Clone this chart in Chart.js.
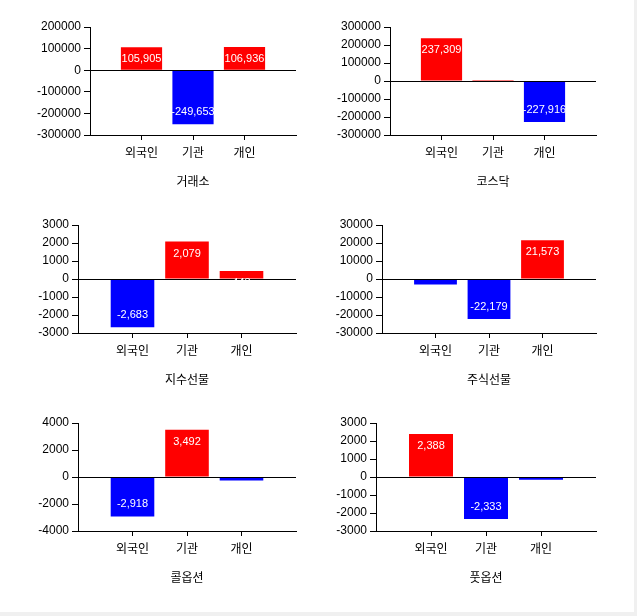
<!DOCTYPE html>
<html>
<head>
<meta charset="utf-8">
<script src="https://cdn.jsdelivr.net/npm/chart.js@4.4.1/dist/chart.umd.min.js"></script>
<style>
  html, body { margin: 0; padding: 0; background: #f0f0f0; }
  #wrap { position: absolute; left: 0; top: 0; width: 634px; height: 612px; background: #ffffff; }
  canvas { position: absolute; }
</style>
</head>
<body>
<div id="wrap"></div>
<script>
// ---- data ----
const categories = ['외국인', '기관', '개인'];
const titles = ['거래소', '코스닥', '지수선물', '주식선물', '콜옵션', '풋옵션'];
const kospiValues = [105905, -249653, 106936];
const kosdaqValues = [237309, 6000, -227916];
const indexFuturesValues = [-2683, 2079, 443];
const stockFuturesValues = [-3120, -22179, 21573];
const callOptionValues = [-2918, 3492, -250];
const putOptionValues = [2388, -2333, -150];
const yMins = [-300000, -300000, -3000, -30000, -4000, -3000];
const yMaxs = [200000, 300000, 3000, 30000, 4000, 3000];
const ySteps = [100000, 100000, 1000, 10000, 2000, 1000];

const seriesList = [kospiValues, kosdaqValues, indexFuturesValues, stockFuturesValues, callOptionValues, putOptionValues];

// ---- layout (canvas placement and chart-area edges inside each canvas) ----
const CW = 316, CH = 198;
const canvasLefts = [0, 316, 0, 316, 0, 316];
const canvasTops = [0, 0, 198, 198, 396, 396];
const areaLefts = [90, 74, 78, 66, 78, 60];
const areaRights = [296, 280, 296, 280, 296, 280];
const areaTop = 27, areaBottom = 135;

const FONT = "'Liberation Sans', 'Noto Sans CJK KR', sans-serif";
const KFONT = "'Noto Sans CJK KR', 'Liberation Sans', sans-serif";

const valueLabels = {
  id: 'valueLabels',
  afterDraw(chart) {
    const ctx = chart.ctx;
    const meta = chart.getDatasetMeta(0);
    const data = chart.data.datasets[0].data;
    ctx.save();
    ctx.fillStyle = '#ffffff';
    ctx.font = "11px " + FONT;
    ctx.textAlign = 'center';
    ctx.textBaseline = 'middle';
    meta.data.forEach((el, i) => {
      const v = data[i];
      if (v === null || v === undefined) return;
      const y = v >= 0 ? el.y + 12 : el.y - 12;
      ctx.fillText(v.toLocaleString('en-US'), el.x, y);
    });
    ctx.restore();
  }
};

const wrap = document.getElementById('wrap');
for (let p = 0; p < 6; p++) {
  const cv = document.createElement('canvas');
  cv.width = CW; cv.height = CH;
  cv.style.width = CW + 'px'; cv.style.height = CH + 'px';
  cv.style.left = canvasLefts[p] + 'px';
  cv.style.top = canvasTops[p] + 'px';
  wrap.appendChild(cv);

  const vals = seriesList[p];
  const data = [null].concat(vals).concat([null]);
  const labels = [''].concat(categories).concat(['']);
  const aLeft = areaLefts[p];
  const aRight = areaRights[p];

  new Chart(cv, {
    type: 'bar',
    data: {
      labels: labels,
      datasets: [{
        data: data,
        backgroundColor: data.map(v => (v !== null && v < 0) ? '#0000ff' : '#ff0000'),
        borderWidth: 0,
        barPercentage: 0.8,
        categoryPercentage: 1.0
      }]
    },
    options: {
      responsive: false,
      animation: false,
      devicePixelRatio: 1,
      layout: { padding: { left: 0, top: areaTop, right: CW - aRight, bottom: 0 } },
      plugins: { legend: { display: false }, tooltip: { enabled: false } },
      scales: {
        x: {
          type: 'category',
          offset: false,
          grid: {
            offset: false,
            drawOnChartArea: false,
            drawTicks: true,
            tickLength: 5,
            tickColor: c => (c.index === 0 || c.index === 4) ? 'rgba(0,0,0,0)' : '#000000'
          },
          border: { display: true, color: '#000000', width: 1 },
          ticks: {
            color: '#000000',
            font: { family: KFONT, size: 12 },
            padding: 5,
            maxRotation: 0,
            autoSkip: false
          },
          title: {
            display: true,
            text: titles[p],
            color: '#000000',
            font: { family: KFONT, size: 12 },
            padding: { top: 0, bottom: 9 }
          },
          afterFit: s => { s.height = CH - areaBottom; }
        },
        y: {
          min: yMins[p],
          max: yMaxs[p],
          grid: {
            z: 1,
            drawOnChartArea: true,
            drawTicks: true,
            tickLength: 6,
            color: c => (c.tick && c.tick.value === 0) ? '#000000' : 'rgba(0,0,0,0)',
            tickColor: '#000000'
          },
          border: { display: true, color: '#000000', width: 1, z: 2 },
          ticks: {
            z: 2,
            stepSize: ySteps[p],
            color: '#000000',
            font: { family: FONT, size: 12 },
            padding: 3,
            callback: v => String(v)
          },
          afterFit: s => { s.width = aLeft; }
        }
      }
    },
    plugins: [valueLabels]
  });
}
</script>
</body>
</html>
